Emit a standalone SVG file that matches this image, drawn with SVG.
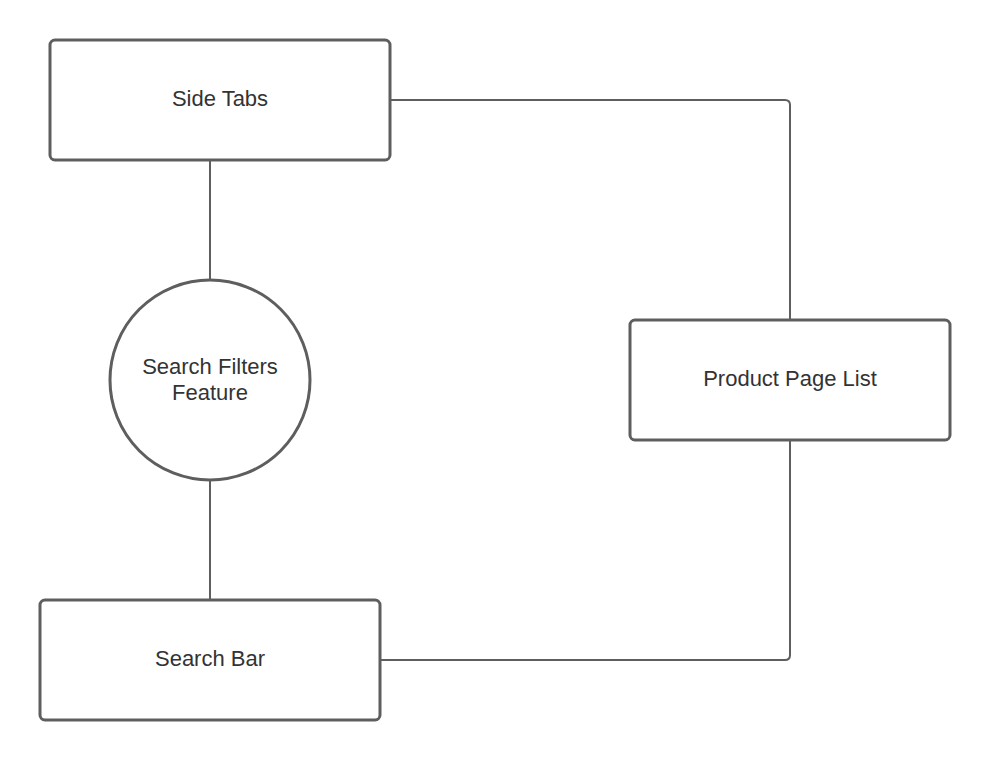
<svg xmlns="http://www.w3.org/2000/svg" width="990" height="760" viewBox="0 0 990 760">
<style>
.node{fill:#fff;stroke:#5e5e5e;stroke-width:3}
.lbl{font-family:"Liberation Sans",Arial,sans-serif;font-size:22px;fill:#333;text-anchor:middle}
.conn{fill:none;stroke:#5e5e5e;stroke-width:2}
</style>
<rect width="990" height="760" fill="#fff"/>
<g id="connectors">
<path class="conn" d="M390,100 H785 Q790,100 790,105 V320"/>
<path class="conn" d="M210,160 V280"/>
<path class="conn" d="M210,480 V600"/>
<path class="conn" d="M380,660 H785 Q790,660 790,655 V440"/>
</g>
<g id="side-tabs">
<rect class="node" x="50" y="40" width="340" height="120" rx="5"/>
<text class="lbl" x="220" y="106">Side Tabs</text>
</g>
<g id="search-filters">
<circle class="node" cx="210" cy="380" r="100"/>
<text class="lbl" x="210" y="374">Search Filters</text>
<text class="lbl" x="210" y="400">Feature</text>
</g>
<g id="product-page-list">
<rect class="node" x="630" y="320" width="320" height="120" rx="5"/>
<text class="lbl" x="790" y="386">Product Page List</text>
</g>
<g id="search-bar">
<rect class="node" x="40" y="600" width="340" height="120" rx="5"/>
<text class="lbl" x="210" y="666">Search Bar</text>
</g>
</svg>
